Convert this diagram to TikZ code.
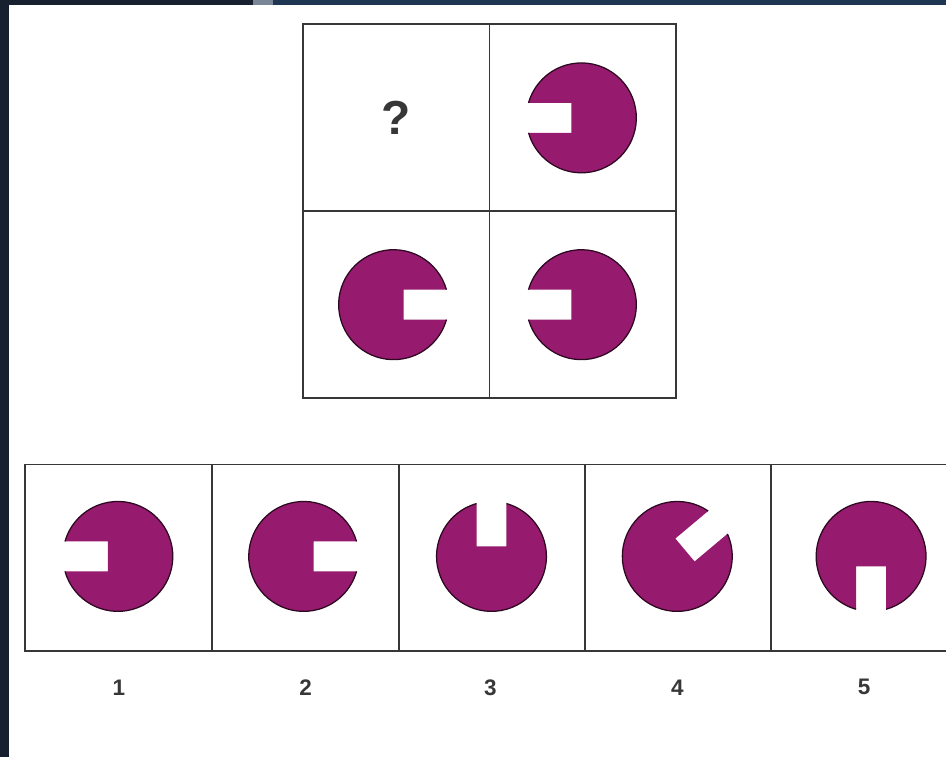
\documentclass[tikz,border=0pt]{standalone}
\usepackage{fontspec}
\setsansfont{Liberation Sans}
\definecolor{plum}{RGB}{150,26,110}
\definecolor{frame}{RGB}{22,32,46}
\definecolor{framebl}{RGB}{30,54,82}
\definecolor{ink}{RGB}{55,55,55}
% disc with a square notch, notch pointing at angle #3
\newcommand{\notchdisc}[3]{%
  \begin{scope}[shift={(#1,#2)},rotate=#3]
    \fill[plum] (15.8:55) arc (15.8:344.2:55) -- (10,-15) -- (10,15) -- cycle;
    \draw[rim] (15.8:55) arc (15.8:344.2:55);
  \end{scope}}
\begin{document}
\begin{tikzpicture}[x=0.025cm,y=0.025cm,
  rim/.style={line width=0.9pt,black!70!plum},
  cell/.style={line width=1.4pt,ink},
  num/.style={font=\sffamily\bfseries\fontsize{16}{18}\selectfont,text=ink}]
\fill[white] (0,0) rectangle (947,758);
\fill[frame] (0,0) rectangle (9,758);
\fill[frame] (0,753) rectangle (253,758);
\fill[framebl!60!white] (253,753) rectangle (273,758);
\fill[framebl] (273,753) rectangle (947,758);
% question grid
\draw[cell] (303,360) rectangle (677,734);
\draw[cell] (490,360) -- (490,734);
\draw[cell] (303,547) -- (677,547);
\node[font=\sffamily\bfseries\fontsize{34}{36}\selectfont,text=ink] (ask) at (396,640) {?};
\notchdisc{582}{640}{180}
\notchdisc{394}{453}{0}
\notchdisc{582}{453}{180}
% answer row
\draw[cell] (947,293) -- (25,293) -- (25,106) -- (947,106);
\foreach \x in {212,399,586,772} \draw[cell] (\x,106) -- (\x,293);
\notchdisc{118}{201}{180}
\notchdisc{304}{201}{0}
\notchdisc{492}{201}{90}
\notchdisc{678}{201}{40}
\notchdisc{872}{201}{-90}
\foreach \i/\x in {1/119,2/306,3/491,4/678,5/865}
  \node[num] (n\i) at (\x,70) {\i};
\end{tikzpicture}
\end{document}
